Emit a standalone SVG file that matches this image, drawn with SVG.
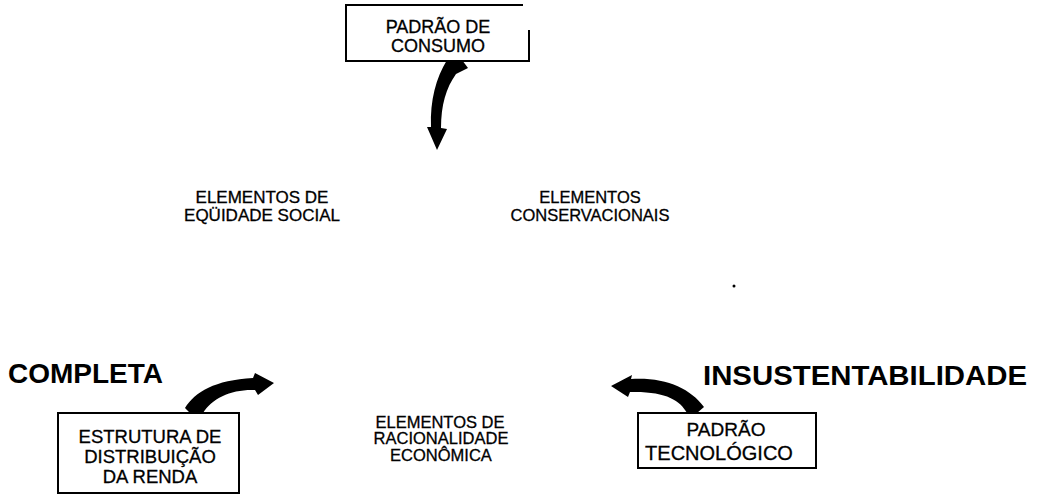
<svg xmlns="http://www.w3.org/2000/svg" width="1041" height="495" viewBox="0 0 1041 495">
<style>
text{font-family:"Liberation Sans",Arial,sans-serif;fill:#000;stroke:#000;stroke-width:0.3;text-anchor:middle}
.box{fill:none;stroke:#000;stroke-width:2}
.arrow{fill:#000;stroke:none}
.big{font-weight:bold;font-size:28px;stroke-width:0}
</style>
<rect width="1041" height="495" fill="#fff"/>
<g id="padrao-consumo">
<path class="box" d="M523,5 H346 V61 H529 V30"/>
<text x="438" y="33" font-size="18">PADRÃO DE</text>
<text x="438" y="52" font-size="18">CONSUMO</text>
</g>
<g id="equidade-social">
<text x="262" y="203" font-size="17">ELEMENTOS DE</text>
<text x="262" y="221" font-size="17">EQÜIDADE SOCIAL</text>
</g>
<g id="conservacionais">
<text x="590" y="203" font-size="16.5">ELEMENTOS</text>
<text x="590" y="221" font-size="16.5">CONSERVACIONAIS</text>
</g>
<g id="racionalidade-economica">
<text x="440" y="428" font-size="16.5">ELEMENTOS DE</text>
<text x="441" y="444" font-size="16.5">RACIONALIDADE</text>
<text x="441" y="461" font-size="16.5">ECONÔMICA</text>
</g>
<g id="estrutura-distribuicao">
<rect class="box" x="58" y="413" width="181" height="80"/>
<text x="150" y="443" font-size="18.5">ESTRUTURA DE</text>
<text x="150" y="463" font-size="18.5">DISTRIBUIÇÃO</text>
<text x="150" y="483" font-size="18.5">DA RENDA</text>
</g>
<g id="padrao-tecnologico">
<rect class="box" x="638" y="413" width="178" height="55"/>
<text x="726" y="436" font-size="19">PADRÃO</text>
<text x="719" y="460" font-size="20">TECNOLÓGICO</text>
</g>
<g id="completa">
<text class="big" x="8" y="383" style="text-anchor:start">COMPLETA</text>
</g>
<g id="insustentabilidade">
<text class="big" x="703" y="385" style="text-anchor:start" textLength="324" lengthAdjust="spacingAndGlyphs">INSUSTENTABILIDADE</text>
</g>
<g id="connectors">
<path class="arrow" d="M447,60 L462,60 L468,68 L456,74 C446,88 441,105 441,128 L447,129 L437,150 L427,127 L431,127 C430,100 436,78 447,60 Z"/>
<path class="arrow" d="M190,413 L185,408 C195,392 215,380 253,378 L255,373 L274,383 L258,395 L255,390 C232,389 212,398 203,413 Z"/>
<path class="arrow" d="M687,413 C680,400 665,391 630,392 L628,397 L611,386 L632,375 L631,379 C665,377 690,388 704,407 L697,413 Z"/>
</g>
<circle cx="734" cy="286" r="1.5" fill="#000"/>
</svg>
